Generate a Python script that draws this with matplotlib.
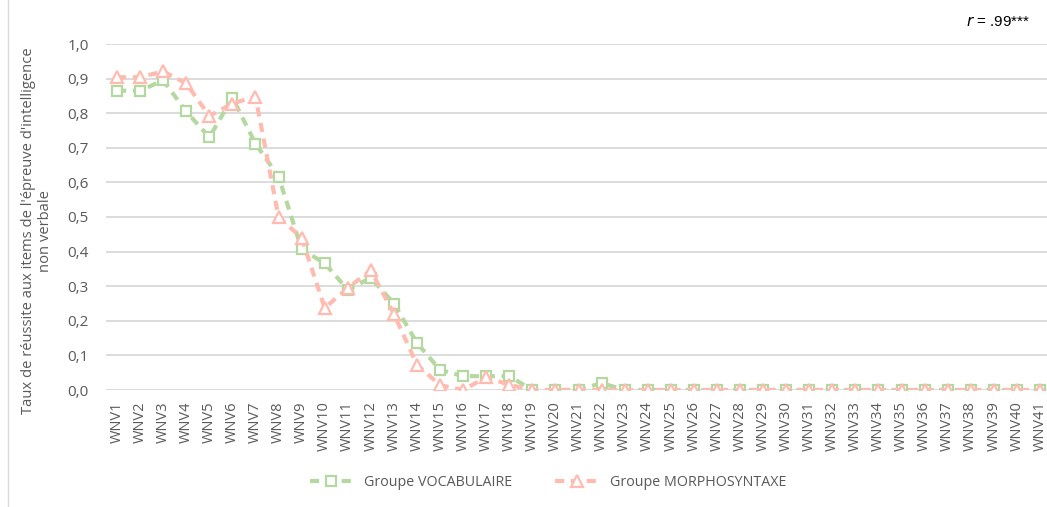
import numpy as np
import matplotlib
matplotlib.use("Agg")
import matplotlib.pyplot as plt
from matplotlib.lines import Line2D

items = ["WNV%d" % i for i in range(1, 42)]

vocabulaire = [0.865, 0.865, 0.895, 0.805, 0.73, 0.845, 0.712, 0.617, 0.407, 0.366,
               0.29, 0.324, 0.25, 0.136, 0.058, 0.04, 0.04, 0.04, 0.0, 0.0,
               0.0, 0.02, 0.0, 0.0, 0.0, 0.0, 0.0, 0.0, 0.0, 0.0,
               0.0, 0.0, 0.0, 0.0, 0.0, 0.0, 0.0, 0.0, 0.0, 0.0, 0.0]
morpho = [0.904, 0.904, 0.921, 0.886, 0.792, 0.828, 0.848, 0.50, 0.44, 0.237,
          0.295, 0.346, 0.22, 0.073, 0.014, 0.0, 0.037, 0.015, 0.0, 0.0,
          0.0, 0.0, 0.0, 0.0, 0.0, 0.0, 0.0, 0.0, 0.0, 0.0,
          0.0, 0.0, 0.0, 0.0, 0.0, 0.0, 0.0, 0.0, 0.0, 0.0, 0.0]
yticks = [0.0, 0.1, 0.2, 0.3, 0.4, 0.5, 0.6, 0.7, 0.8, 0.9, 1.0]

green = '#B4D89F'
pink = '#FFBBB0'
txt = '#595959'
dash = (0, (2.2, 1.6))

plt.rcParams['font.family'] = ['Open Sans', 'DejaVu Sans']

W, H = 1047, 507
fig = plt.figure(figsize=(W/100, H/100), dpi=100)
left, right, top, bottom = 105.5, 1051.5, 44, 390
ax = fig.add_axes([left/W, 1-bottom/H, (right-left)/W, (bottom-top)/H])

x = np.arange(len(items))
ax.plot(x, vocabulaire, color=green, lw=3.0, ls=dash, marker='s',
        ms=6.5, mfc='white', mec=green, mew=1.6, zorder=3)
ax.plot(x, morpho, color=pink, lw=3.0, ls=dash, marker='^',
        ms=8, mfc='white', mec=pink, mew=1.6, zorder=4)

ax.set_xlim(-0.5, len(items) - 0.5)
ax.set_ylim(0, 1.0)
ax.set_yticks(yticks)
ax.set_yticklabels([("%.1f" % v).replace('.', ',') for v in yticks])
ax.set_xticks(x)
ax.set_xticklabels(items, rotation=90)
ax.grid(axis='y', color='#D9D9D9', lw=1.3)
ax.set_axisbelow(True)
for s in ax.spines.values():
    s.set_visible(False)
ax.tick_params(length=0, colors=txt, labelsize=10.5)
ax.tick_params(axis='y', labelsize=11, pad=12)
ax.tick_params(axis='x', pad=8)

# y label, placed by hand like the Excel original
fig.text(37/W, 1-231/H,
         "Taux de réussite aux items de l'épreuve d'intelligence\nnon verbale",
         rotation=90, ha='center', va='center', multialignment='center',
         color=txt, fontsize=10.6, linespacing=1.2)

handles = [Line2D([], [], color=green, lw=3.0, ls=dash, marker='s', ms=6.5,
                  mfc='white', mec=green, mew=1.6),
           Line2D([], [], color=pink, lw=3.0, ls=dash, marker='^', ms=8,
                  mfc='white', mec=pink, mew=1.6)]
fig.legend(handles, ['Groupe VOCABULAIRE', 'Groupe MORPHOSYNTAXE'], loc='center',
           bbox_to_anchor=(548/W, 1-483/H), ncol=2, frameon=False, fontsize=10.3,
           labelcolor=txt, handlelength=3.0, columnspacing=3.0)

fig.text(1030/W, 1-22/H, r"$r$ = .99***", ha='right', va='center', fontsize=11,
         family='Liberation Sans', color='black')

fig.add_artist(Line2D([8/W, 8/W], [0, 1], color='#D9D9D9', lw=1))

fig.savefig('out.png', dpi=100)
